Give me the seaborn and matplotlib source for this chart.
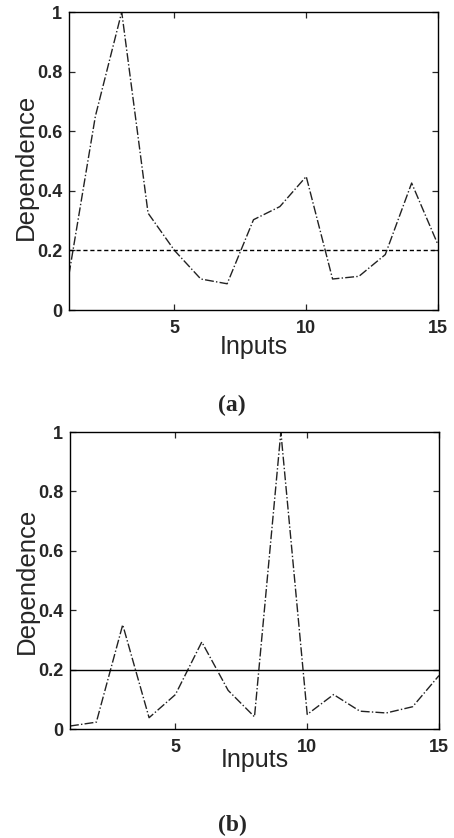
import numpy as np
import pandas as pd
import matplotlib
matplotlib.use("Agg")
import matplotlib.pyplot as plt
import seaborn as sns

inputs = list(range(1, 16))
dep_a = [0.12, 0.65, 1.0, 0.325, 0.20, 0.104, 0.088, 0.303, 0.347, 0.448,
         0.104, 0.113, 0.186, 0.426, 0.219]
dep_b = [0.01, 0.023, 0.351, 0.038, 0.116, 0.293, 0.13, 0.041, 1.0, 0.049,
         0.116, 0.06, 0.054, 0.075, 0.18]
threshold = 0.2
xticks = [5, 10, 15]
yticks = [0, 0.2, 0.4, 0.6, 0.8, 1]
ytick_labels = ["0", "0.2", "0.4", "0.6", "0.8", "1"]
captions = ["(a)", "(b)"]

sns.set_style("ticks")
plt.rcParams["font.family"] = ["Liberation Sans", "DejaVu Sans"]

fig = plt.figure(figsize=(4.54, 8.38), dpi=100)
ax_a = fig.add_axes([69/454, 1-310/838, 369/454, 298/838])
ax_b = fig.add_axes([70/454, 1-729/838, 369/454, 297/838])

panels = [
    (ax_a, dep_a, "--", 0.48, -0.124, 405),
    (ax_b, dep_b, "-", 0.50, -0.104, 825),
]

for (ax, vals, thr_ls, ylab_y, xlab_y, cap_y), cap in zip(panels, captions):
    df = pd.DataFrame({"Inputs": inputs, "Dependence": vals})
    sns.lineplot(data=df, x="Inputs", y="Dependence", ax=ax,
                 color="#222222", lw=1.0, linestyle="-.")
    ax.axhline(threshold, color="black", lw=1.0, linestyle=thr_ls,
               dashes=(3, 2) if thr_ls == "--" else (None, None))
    ax.set_xlim(1, 15)
    ax.set_ylim(0, 1)
    ax.set_xticks(xticks)
    ax.set_yticks(yticks)
    ax.set_yticklabels(ytick_labels)
    ax.tick_params(direction="in", top=True, right=True, length=4, width=0.9,
                   labelsize=13, pad=5)
    for lab in ax.get_xticklabels() + ax.get_yticklabels():
        lab.set_fontweight("bold")
    ax.tick_params(axis="x", pad=7)
    for sp in ax.spines.values():
        sp.set_visible(True)
        sp.set_linewidth(1.0)
        sp.set_color("black")
    ax.set_ylabel("Dependence", fontsize=18.5)
    ax.set_xlabel("Inputs", fontsize=18)
    ax.yaxis.set_label_coords(-0.117, ylab_y)
    ax.yaxis.label.set_va("center")
    ax.xaxis.set_label_coords(0.5, xlab_y)
    ax.xaxis.label.set_va("center")
    fig.text(232/454, 1-cap_y/838, cap, ha="center", va="center",
             fontsize=17, fontweight="bold",
             family=["Liberation Serif", "DejaVu Serif"])

fig.savefig("out.png", dpi=100)
